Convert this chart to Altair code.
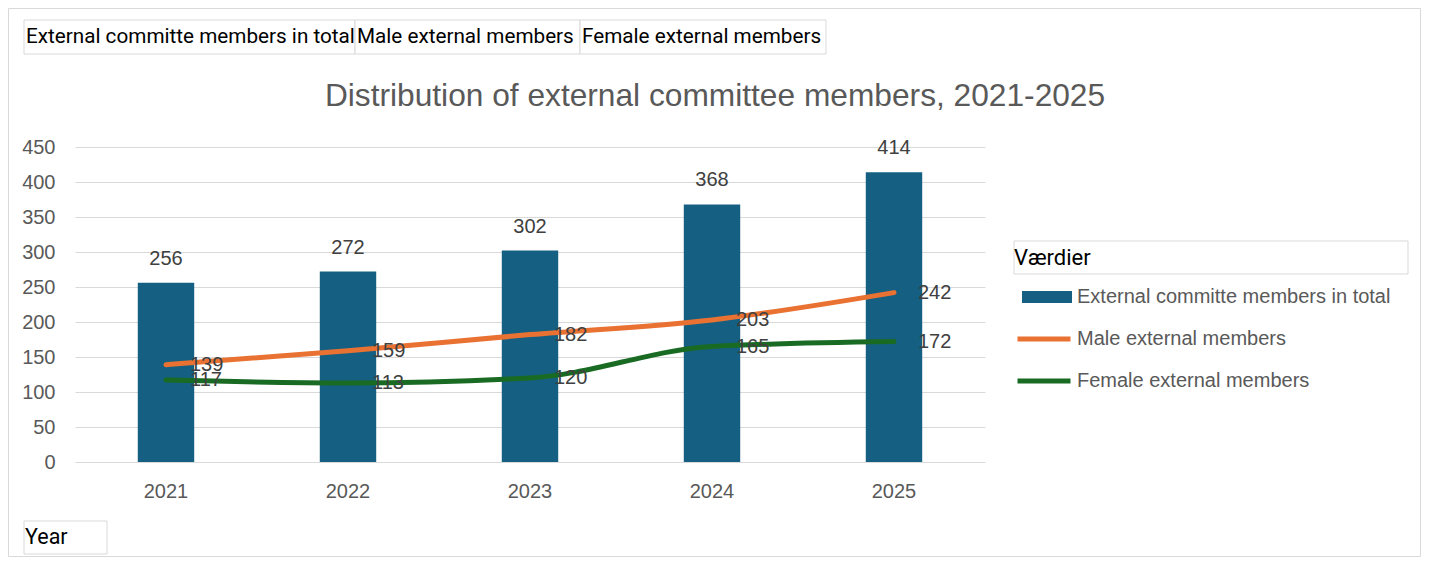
import altair as alt
import pandas as pd

years = ["2021", "2022", "2023", "2024", "2025"]
series_names = ["External committe members in total", "Male external members", "Female external members"]
total_members = [256, 272, 302, 368, 414]
male_members = [139, 159, 182, 203, 242]
female_members = [117, 113, 120, 165, 172]
y_ticks = [0, 50, 100, 150, 200, 250, 300, 350, 400, 450]
title_text = "Distribution of external committee members, 2021-2025"
legend_title = "Værdier"
axis_button = "Year"

bar_df = pd.DataFrame({"Year": years, "Series": series_names[0], "Value": total_members})
line_df = pd.DataFrame({
    "Year": years + years,
    "Series": [series_names[1]] * len(years) + [series_names[2]] * len(years),
    "Value": male_members + female_members,
})
one = pd.DataFrame({"k": [0]})

GRAY = "#595959"
LABEL = "#404040"
SANS = "Liberation Sans"
BTN = "Roboto"

x_enc = alt.X(
    "Year:N", sort=years,
    scale=alt.Scale(paddingInner=0.69, paddingOuter=0.345),
    axis=alt.Axis(title=None, labelAngle=0, ticks=False, domain=False, grid=False,
                  labelFont=SANS, labelFontSize=20, labelColor=GRAY,
                  labelPadding=29, labelBaseline="middle"),
)
y_enc = alt.Y(
    "Value:Q",
    scale=alt.Scale(domain=[0, 450], nice=False),
    axis=alt.Axis(title=None, values=y_ticks, ticks=False, domain=False, grid=True,
                  gridColor="#D9D9D9", gridWidth=1,
                  labelFont=SANS, labelFontSize=20, labelColor=GRAY, labelPadding=20),
)

bars = alt.Chart(bar_df).mark_bar().encode(
    x=x_enc, y=y_enc,
    fill=alt.Fill("Series:N", scale=alt.Scale(domain=[series_names[0]], range=["#156082"]),
                  legend=alt.Legend(title=None, orient="none", legendX=947, legendY=125,
                                    symbolType="M-1,-0.24H1V0.24H-1Z", symbolSize=2500,
                                    symbolStrokeWidth=0, labelFont=SANS, labelFontSize=20,
                                    labelColor=GRAY, labelOffset=5, padding=0, labelLimit=500)),
)

lines = alt.Chart(line_df).mark_line(
    strokeWidth=5, strokeCap="round", strokeJoin="round", interpolate="monotone"
).encode(
    x=x_enc, y=y_enc,
    stroke=alt.Stroke("Series:N", sort=series_names[1:],
                      scale=alt.Scale(domain=series_names[1:], range=["#E97132", "#196B24"]),
                      legend=alt.Legend(title=None, orient="none", legendX=940, legendY=163,
                                        symbolType="stroke", symbolSize=2809,
                                        symbolStrokeWidth=5, labelFont=SANS, labelFontSize=20,
                                        labelColor=GRAY, labelOffset=4, padding=0,
                                        rowPadding=3, labelLimit=500)),
)

bar_text = alt.Chart(bar_df).mark_text(
    dy=-24, baseline="middle", font=SANS, fontSize=20, color=LABEL
).encode(x=x_enc, y=y_enc, text="Value:Q")

line_text = alt.Chart(line_df).mark_text(
    dx=24, align="left", baseline="middle", font=SANS, fontSize=20, color=LABEL
).encode(x=x_enc, y=y_enc, text="Value:Q")


def box(x1, x2, y1, y2):
    return alt.Chart(one).mark_rect(fill="white", stroke="#D9D9D9", strokeWidth=1).encode(
        x=alt.value(x1), x2=alt.value(x2), y=alt.value(y1), y2=alt.value(y2))


def label(txt, x, y, size=20.7):
    return alt.Chart(one).mark_text(align="left", baseline="middle", font=BTN,
                                    fontSize=size, color="black").encode(
        x=alt.value(x), y=alt.value(y), text=alt.value(txt))


border = alt.Chart(one).mark_rect(fillOpacity=0, stroke="#D9D9D9", strokeWidth=1).encode(
    x=alt.value(-66.5), x2=alt.value(1345.5), y=alt.value(-138.5), y2=alt.value(409.5))

title = alt.Chart(one).mark_text(align="center", baseline="middle", font=SANS,
                                 fontSize=31.7, color=GRAY).encode(
    x=alt.value(640), y=alt.value(-51), text=alt.value(title_text))

decor = [
    border,
    box(-51, 280, -127, -93), box(280, 505, -127, -93), box(505, 751, -127, -93),
    label(series_names[0], -49, -110), label(series_names[1], 282, -110),
    label(series_names[2], 507, -110),
    box(-51, 32, 374, 407), label(axis_button, -50, 391, 21.5),
    box(939, 1333, 94, 127), label(legend_title, 939, 111, 22),
    title,
]

chart = alt.layer(*decor, bars, lines, bar_text, line_text).properties(
    width=910, height=315,
    padding={"left": 67, "top": 139, "right": 436, "bottom": 95},
    autosize=alt.AutoSizeParams(type="none"),
).configure_view(stroke=None)

chart.save("out.html", embed_options={"renderer": "svg", "actions": False})
